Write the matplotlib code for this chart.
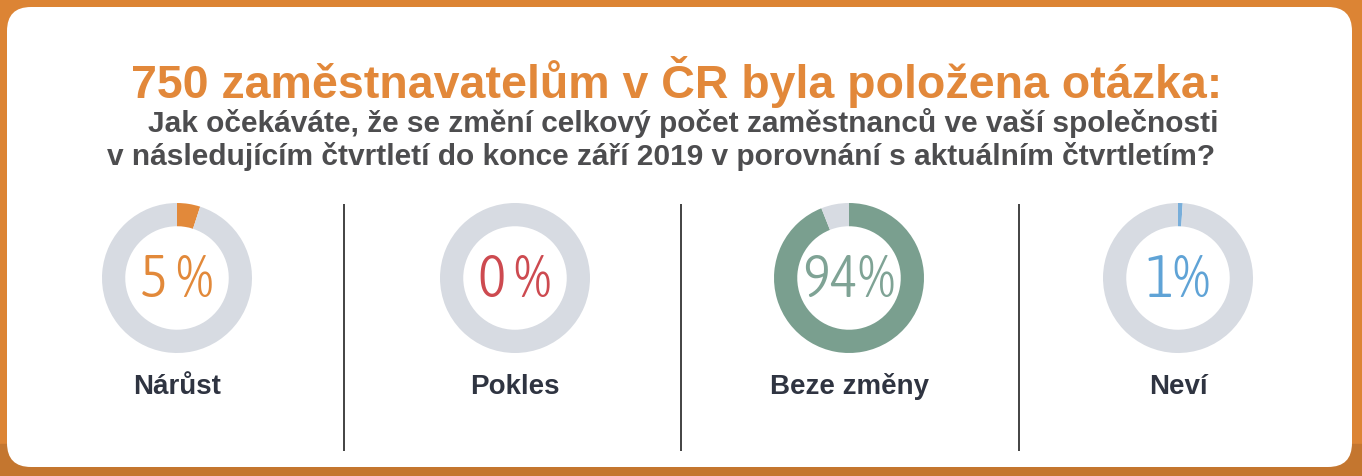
import matplotlib.pyplot as plt
from matplotlib import font_manager as fm
from matplotlib.patches import FancyBboxPatch, Rectangle

# data
categories = ['Nárůst', 'Pokles', 'Beze změny', 'Neví']
values = [5, 0, 94, 1]
pct_labels = ['5 %', '0 %', '94%', '1%']
colors = ['#E2893A', '#CD4A50', '#7A9F8F', '#78AEDA']
text_colors = ['#E2893A', '#CD4A50', '#7FA395', '#5FA3D6']
title = '750 zaměstnavatelům v ČR byla položena otázka:'
subtitle1 = 'Jak očekáváte, že se změní celkový počet zaměstnanců ve vaší společnosti'
subtitle2 = 'v následujícím čtvrtletí do konce září 2019 v porovnání s aktuálním čtvrtletím?'

W, H = 1362, 477
ring_grey = '#D7DBE2'
sans = ['Liberation Sans', 'DejaVu Sans']

# light condensed face for the big percentages, if there is one
names = {f.name for f in fm.fontManager.ttflist}
if 'Asap Condensed' in names:
    pct_font = dict(family=['Asap Condensed', 'DejaVu Sans'], fontweight=300, fontsize=43)
else:
    pct_font = dict(family=sans, fontsize=36)

fig = plt.figure(figsize=(W / 100, H / 100), dpi=100, facecolor='#DC8434')
ax = fig.add_axes([0, 0, 1, 1])
ax.set_xlim(0, W)
ax.set_ylim(H, 0)
ax.axis('off')

# darker band at the bottom of the orange frame
ax.add_patch(Rectangle((0, 445), W, 32, color='#C4762F', zorder=0))
# white card
ax.add_patch(FancyBboxPatch((7, 8), 1345, 460,
                            boxstyle='round,pad=0,rounding_size=24',
                            fc='white', ec='none', zorder=1))

# titles
ax.text(677, 98, title, ha='center', va='baseline', fontsize=33.5,
        fontweight='bold', color='#E2883A', family=sans, zorder=3)
ax.text(683, 132, subtitle1, ha='center', va='baseline', fontsize=21.5,
        fontweight='bold', color='#4D4D4F', family=sans, zorder=3)
ax.text(661, 165, subtitle2, ha='center', va='baseline', fontsize=21.5,
        fontweight='bold', color='#4D4D4F', family=sans, zorder=3)

# dividers
ax.vlines([344, 681, 1019], 205, 452, color='#222222', lw=1.2, zorder=3)

# donuts
centers_x = [177, 515, 849, 1178]
cy = 279
r = 75
for i, cat in enumerate(categories):
    cx = centers_x[i]
    pax = fig.add_axes([(cx - r) / W, (H - cy - r) / H, 2 * r / W, 2 * r / H])
    pax.pie([values[i], 100 - values[i]], colors=[colors[i], ring_grey],
            startangle=90, counterclock=False, radius=1,
            wedgeprops=dict(width=0.31, linewidth=0))
    pax.set_xlim(-1, 1)
    pax.set_ylim(-1, 1)
    pax.set_aspect('equal')
    pax.text(0, -0.24, pct_labels[i], ha='center', va='baseline',
             color=text_colors[i], **pct_font)
    ax.text(cx, 394, cat, ha='center', va='baseline', fontsize=20,
            fontweight='bold', color='#2F3441', family=sans, zorder=3)

fig.savefig('out.png', dpi=100, facecolor=fig.get_facecolor())
